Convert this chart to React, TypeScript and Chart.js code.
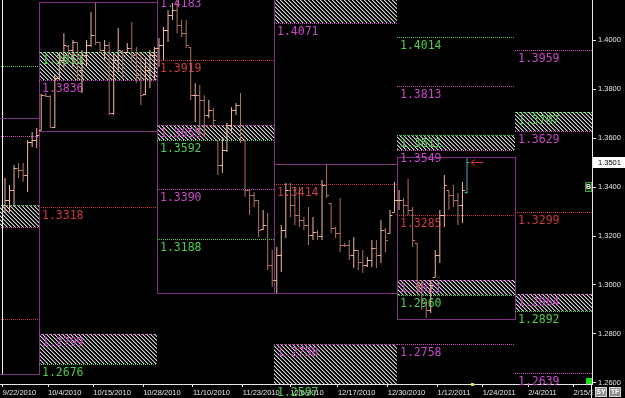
import { useEffect, useRef } from 'react';
import { Chart, registerables } from 'chart.js';

Chart.register(...registerables);

// ---------- data ----------
const opens = [
  1.3327, 1.3347, 1.3388, 1.3478, 1.3469, 1.3449, 1.3584, 1.3592,
  1.3633, 1.3775, 1.3771, 1.3645, 1.3845, 1.3918, 1.3975, 1.3959, 1.3992, 1.3878, 1.3939, 1.3980, 1.4020, 1.3990, 1.3959, 1.3980, 1.3702, 1.3918, 1.3955, 1.3950, 1.3967, 1.3939, 1.3857, 1.3780, 1.3878, 1.3939,
  1.3967, 1.3980, 1.4041, 1.4102, 1.4122, 1.4060, 1.4028, 1.3971, 1.3775, 1.3775, 1.3755, 1.3694, 1.3714, 1.3590, 1.3490, 1.3551, 1.3653, 1.3714, 1.3735, 1.3592, 1.3388, 1.3367, 1.3347, 1.3230, 1.3245, 1.3082, 1.3020,
  1.3122, 1.3225, 1.3388, 1.3327, 1.3286, 1.3265, 1.3245, 1.3204, 1.3216, 1.3200, 1.3408, 1.3335, 1.3233, 1.3212, 1.3165, 1.3163, 1.3122, 1.3143, 1.3094, 1.3082, 1.3102, 1.3151, 1.3122, 1.3225, 1.3212,
  1.3298, 1.3347, 1.3347, 1.3327, 1.3306, 1.3171, 1.3000, 1.2931, 1.2898, 1.3033, 1.3122, 1.3286, 1.3388, 1.3367, 1.3347, 1.3327, 1.3380,
];
const highs = [
  1.3437, 1.3408, 1.3490, 1.3498, 1.3498, 1.3592, 1.3625, 1.3641,
  1.3780, 1.3784, 1.3775, 1.3857, 1.3947, 1.4028, 1.3980, 1.4000, 1.3992, 1.3959, 1.4000, 1.4114, 1.4151, 1.3992, 1.4000, 1.3992, 1.3947, 1.4049, 1.3959, 1.3988, 1.4073, 1.3971, 1.3947, 1.3926, 1.3959, 1.3971,
  1.4008, 1.4053, 1.4122, 1.4151, 1.4282, 1.4082, 1.4082, 1.3971, 1.3824, 1.3816, 1.3775, 1.3755, 1.3722, 1.3592, 1.3604, 1.3661, 1.3726, 1.3743, 1.3784, 1.3592, 1.3388, 1.3380, 1.3347, 1.3306, 1.3294, 1.3143, 1.3155,
  1.3245, 1.3416, 1.3416, 1.3400, 1.3400, 1.3278, 1.3318, 1.3278, 1.3225, 1.3429, 1.3490, 1.3335, 1.3237, 1.3355, 1.3171, 1.3184, 1.3196, 1.3143, 1.3143, 1.3114, 1.3184, 1.3184, 1.3265, 1.3233, 1.3306,
  1.3420, 1.3388, 1.3355, 1.3433, 1.3318, 1.3171, 1.3020, 1.2931, 1.3020, 1.3143, 1.3306, 1.3449, 1.3388, 1.3408, 1.3376, 1.3420, 1.3518,
];
const lows = [
  1.3294, 1.3298, 1.3318, 1.3437, 1.3421, 1.3380, 1.3563, 1.3559,
  1.3633, 1.3767, 1.3641, 1.3641, 1.3837, 1.3890, 1.3930, 1.3890, 1.3837, 1.3784, 1.3890, 1.3971, 1.3980, 1.3947, 1.3918, 1.3694, 1.3694, 1.3869, 1.3849, 1.3947, 1.3910, 1.3824, 1.3735, 1.3775, 1.3804, 1.3837,
  1.3890, 1.3918, 1.3992, 1.4082, 1.4028, 1.4012, 1.3967, 1.3755, 1.3665, 1.3620, 1.3604, 1.3682, 1.3645, 1.3449, 1.3457, 1.3543, 1.3620, 1.3694, 1.3580, 1.3359, 1.3286, 1.3318, 1.3196, 1.3225, 1.3061, 1.2992, 1.2967,
  1.3053, 1.3192, 1.3278, 1.3245, 1.3237, 1.3225, 1.3163, 1.3184, 1.3184, 1.3184, 1.3355, 1.3212, 1.3192, 1.3135, 1.3155, 1.3102, 1.3069, 1.3061, 1.3049, 1.3073, 1.3073, 1.3069, 1.3090, 1.3135, 1.3212,
  1.3298, 1.3306, 1.3278, 1.3286, 1.3155, 1.2967, 1.2898, 1.2865, 1.2886, 1.3033, 1.3090, 1.3237, 1.3306, 1.3318, 1.3245, 1.3253, 1.3371,
];
const closes = [
  1.3347, 1.3388, 1.3478, 1.3469, 1.3449, 1.3584, 1.3592, 1.3612,
  1.3775, 1.3771, 1.3645, 1.3845, 1.3918, 1.3980, 1.3959, 1.3992, 1.3878, 1.3939, 1.3980, 1.4020, 1.3992, 1.3959, 1.3980, 1.3702, 1.3918, 1.3959, 1.3939, 1.3967, 1.3939, 1.3857, 1.3775, 1.3878, 1.3939, 1.3967,
  1.3980, 1.4041, 1.4102, 1.4122, 1.4061, 1.4028, 1.3980, 1.3775, 1.3775, 1.3755, 1.3694, 1.3714, 1.3674, 1.3490, 1.3551, 1.3653, 1.3714, 1.3735, 1.3592, 1.3388, 1.3367, 1.3347, 1.3225, 1.3245, 1.3082, 1.3020, 1.3122,
  1.3225, 1.3388, 1.3327, 1.3286, 1.3265, 1.3245, 1.3204, 1.3216, 1.3200, 1.3408, 1.3367, 1.3233, 1.3212, 1.3163, 1.3163, 1.3122, 1.3143, 1.3094, 1.3082, 1.3102, 1.3151, 1.3122, 1.3225, 1.3184, 1.3286,
  1.3347, 1.3347, 1.3327, 1.3306, 1.3184, 1.3000, 1.2939, 1.2898, 1.3000, 1.3122, 1.3286, 1.3408, 1.3367, 1.3347, 1.3327, 1.3388, 1.3501,
];

const xTickPos = [-0.5, 9.5, 19.5, 30.5, 41.5, 52.5, 63, 73.5, 84.5, 95.5, 105.5, 115.5, 125.5];
const xTickLabels = ['9/22/2010', '10/4/2010', '10/15/2010', '10/28/2010', '11/10/2010', '11/23/2010', '12/6/2010', '12/17/2010', '12/30/2010', '1/12/2011', '1/24/2011', '2/4/2011', '2/15/2011'];
const yTicks = [1.26, 1.28, 1.30, 1.32, 1.34, 1.36, 1.38, 1.40];

// monthly levels: Sep, Oct, Nov, Dec, Jan, Feb
const monthStart = [-16, 7.5, 33.5, 59.5, 86.5, 112.5];
const monthEnd = [7.5, 33.5, 59.5, 86.5, 112.5, 129.6];
const boxHigh = [1.3682, 1.4155, 1.4282, 1.3494, 1.3522, null];
const boxLow = [1.2637, 1.3629, 1.2967, 1.2967, 1.2861, null];
const pivot = [1.2861, 1.3318, 1.3919, 1.3414, 1.3285, 1.3299];
const upperZoneLow = [1.3237, 1.3836, 1.4183, 1.4071, 1.3549, 1.3629];
const upperZoneHigh = [1.3327, 1.3951, 1.4246, 1.4240, 1.3611, 1.3707];
const lowerZoneHigh = [null, 1.2799, 1.3655, 1.2758, 1.3021, 1.2964];
const lowerZoneLow = [null, 1.2676, 1.3592, 1.2597, 1.2960, 1.2892];
const upperPurple = [1.3608, null, null, null, 1.3813, 1.3959];
const upperGreen = [1.3894, null, null, null, 1.4014, 1.4214];
const lowerPurple = [null, null, 1.3390, null, 1.2758, 1.2639];
const lowerGreen = [null, null, 1.3188, null, null, null];

// ---------- styles ----------
const Y_MIN = 1.25959;
const Y_MAX = 1.41633;
const X_MIN = -1.1;
const X_MAX = 129.6;
const C = {
  green: '#4ccc4c',
  purple: '#c848c8',
  red: '#cc3c3c',
  box: '#803080',
  up: '#f0b8a0',
  down: '#b07460',
  live: '#4aa8a8',
  axis: '#e6e6e6',
};

let hatchPattern: CanvasPattern | null = null;
function getHatch(ctx: CanvasRenderingContext2D) {
  if (hatchPattern) return hatchPattern;
  const c = document.createElement('canvas');
  c.width = 4;
  c.height = 4;
  const g = c.getContext('2d')!;
  g.fillStyle = '#000';
  g.fillRect(0, 0, 4, 4);
  for (let i = 0; i < 4; i++) {
    g.fillStyle = '#d4d4d4';
    g.fillRect(i, i, 1, 1);
    g.fillStyle = '#5c5c5c';
    g.fillRect((i + 1) % 4, i, 1, 1);
  }
  hatchPattern = ctx.createPattern(c, 'repeat');
  return hatchPattern;
}

const barColors = closes.map((c, i) => (i === closes.length - 1 ? C.live : c >= opens[i] ? C.up : C.down));

const levelsPlugin = {
  id: 'levels',
  beforeDatasetsDraw(chart: any) {
    const { ctx, chartArea: a, scales } = chart;
    const x = scales.x;
    const y = scales.y;
    const py = (v: number) => Math.round(y.getPixelForValue(v)) + 0.5;
    ctx.save();
    ctx.beginPath();
    ctx.rect(a.left, a.top, a.right - a.left, a.bottom - a.top);
    ctx.clip();
    const pat = getHatch(ctx);
    // zones
    for (let m = 0; m < monthStart.length; m++) {
      const x0 = Math.round(x.getPixelForValue(monthStart[m]));
      const x1 = Math.round(x.getPixelForValue(monthEnd[m]));
      const zones: [number | null, number | null][] = [
        [upperZoneHigh[m], upperZoneLow[m]],
        [lowerZoneHigh[m], lowerZoneLow[m]],
      ];
      for (const [hi, lo] of zones) {
        if (hi == null || lo == null) continue;
        const y0 = Math.round(y.getPixelForValue(hi));
        const y1 = Math.round(y.getPixelForValue(lo));
        ctx.fillStyle = pat;
        ctx.fillRect(x0, y0, x1 - x0, y1 - y0);
      }
    }
    // left marker line
    ctx.strokeStyle = '#f0f0f0';
    ctx.lineWidth = 1;
    ctx.setLineDash([]);
    ctx.beginPath();
    const lx = Math.round(x.getPixelForValue(-0.66)) + 0.5;
    ctx.moveTo(lx, a.top);
    ctx.lineTo(lx, py(boxLow[0] as number));
    ctx.stroke();
    // boxes
    ctx.strokeStyle = C.box;
    for (let m = 0; m < monthStart.length; m++) {
      const hi = boxHigh[m];
      const lo = boxLow[m];
      if (hi == null || lo == null) continue;
      const x0 = Math.round(x.getPixelForValue(monthStart[m])) + 0.5;
      const x1 = Math.round(x.getPixelForValue(monthEnd[m])) + 0.5;
      ctx.strokeRect(x0, py(hi), x1 - x0, py(lo) - py(hi));
    }
    // dotted level lines
    ctx.setLineDash([1, 1]);
    const levelSets: [(number | null)[], string][] = [
      [upperGreen, C.green], [upperPurple, C.purple], [upperZoneHigh, C.green], [upperZoneLow, C.purple],
      [pivot, C.red], [lowerZoneHigh, C.purple], [lowerZoneLow, C.green], [lowerPurple, C.purple], [lowerGreen, C.green],
    ];
    for (let m = 0; m < monthStart.length; m++) {
      const x0 = Math.round(x.getPixelForValue(monthStart[m]));
      const x1 = Math.round(x.getPixelForValue(monthEnd[m]));
      for (const [arr, col] of levelSets) {
        const v = arr[m];
        if (v == null) continue;
        ctx.strokeStyle = col;
        ctx.beginPath();
        ctx.moveTo(x0, py(v));
        ctx.lineTo(x1, py(v));
        ctx.stroke();
      }
    }
    ctx.restore();
    // labels
    ctx.save();
    ctx.beginPath();
    ctx.rect(a.left, 0, a.right - a.left, chart.height);
    ctx.clip();
    ctx.font = '11.5px "DejaVu Sans Mono", monospace';
    ctx.textAlign = 'left';
    ctx.textBaseline = 'alphabetic';
    for (let m = 0; m < monthStart.length; m++) {
      const x0 = x.getPixelForValue(monthStart[m]);
      for (const [arr, col] of levelSets) {
        const v = arr[m];
        if (v == null) continue;
        ctx.fillStyle = col;
        ctx.fillText(v.toFixed(4), Math.round(x0) + 3, py(v) + 11.5);
      }
    }
    ctx.restore();
  },
};

const ohlcPlugin = {
  id: 'ohlcTicks',
  afterDatasetsDraw(chart: any) {
    const { ctx, scales } = chart;
    const x = scales.x;
    const y = scales.y;
    ctx.save();
    ctx.lineWidth = 1;
    for (let i = 0; i < closes.length; i++) {
      const px = x.getPixelForValue(i);
      const yo = Math.round(y.getPixelForValue(opens[i])) + 0.5;
      const yc = Math.round(y.getPixelForValue(closes[i])) + 0.5;
      ctx.strokeStyle = barColors[i];
      ctx.beginPath();
      ctx.moveTo(px - 2.5, yo);
      ctx.lineTo(px, yo);
      ctx.moveTo(px, yc);
      ctx.lineTo(px + 2.5, yc);
      ctx.stroke();
    }
    // arrow at last close
    const last = closes.length - 1;
    const ax = x.getPixelForValue(last) + 4;
    const ay = Math.round(y.getPixelForValue(closes[last])) + 0.5;
    ctx.strokeStyle = '#e03030';
    ctx.beginPath();
    ctx.moveTo(ax, ay);
    ctx.lineTo(ax + 12, ay);
    ctx.moveTo(ax, ay);
    ctx.lineTo(ax + 4, ay - 3);
    ctx.moveTo(ax, ay);
    ctx.lineTo(ax + 4, ay + 3);
    ctx.stroke();
    ctx.restore();
  },
};

const overlayPlugin = {
  id: 'overlay',
  beforeDraw(chart: any) {
    const { ctx } = chart;
    ctx.save();
    ctx.fillStyle = '#000';
    ctx.fillRect(0, 0, chart.width, chart.height);
    ctx.restore();
  },
  afterDraw(chart: any) {
    const { ctx, chartArea: a, scales } = chart;
    const x = scales.x;
    const y = scales.y;
    ctx.save();
    // cover overflow of last date label
    ctx.fillStyle = '#000';
    ctx.fillRect(a.right + 1, a.bottom + 4, chart.width - a.right, chart.height - a.bottom);
    ctx.strokeStyle = '#f0f0f0';
    ctx.beginPath();
    ctx.moveTo(Math.round(a.right) - 0.5, a.bottom);
    ctx.lineTo(Math.round(a.right) - 0.5, chart.height);
    ctx.stroke();
    // SY / TF buttons
    const btn = (bx: number, t: string) => {
      ctx.fillStyle = '#8e8e8e';
      ctx.fillRect(bx, 387, 12, 10);
      ctx.strokeStyle = '#d8d8d8';
      ctx.strokeRect(bx + 0.5, 387.5, 11, 9);
      ctx.fillStyle = '#fff';
      ctx.font = 'bold 7px "Liberation Sans", Arial, sans-serif';
      ctx.textAlign = 'center';
      ctx.textBaseline = 'middle';
      ctx.fillText(t, bx + 6, 392.5);
    };
    btn(a.right + 3, 'SY');
    btn(a.right + 17, 'TF');
    // current price box
    const last = closes.length - 1;
    const cy = Math.round(y.getPixelForValue(closes[last]));
    ctx.fillStyle = '#fff';
    ctx.fillRect(a.right + 1, cy - 5, chart.width - a.right - 1, 11);
    ctx.fillStyle = '#000';
    ctx.font = '7.5px "Liberation Sans", Arial, sans-serif';
    ctx.textAlign = 'left';
    ctx.textBaseline = 'middle';
    ctx.fillText(closes[last].toFixed(4), a.right + 6, cy + 0.5);
    // B marker
    ctx.fillStyle = '#0e2a0e';
    ctx.fillRect(a.right - 7, 182, 7, 10);
    ctx.strokeStyle = '#4a9a4a';
    ctx.strokeRect(a.right - 6.5, 182.5, 6, 9);
    ctx.fillStyle = '#e8e8e8';
    ctx.font = 'bold 7px "Liberation Sans", Arial, sans-serif';
    ctx.textAlign = 'center';
    ctx.fillText('B', a.right - 3.5, 187.5);
    // green square
    ctx.fillStyle = '#22dd22';
    ctx.fillRect(a.right - 6, a.bottom - 6, 6, 6);
    // yellow marker
    ctx.fillStyle = '#e8e040';
    ctx.fillRect(Math.round(x.getPixelForValue(closes.length)) - 1, a.bottom - 1, 3, 3);
    ctx.restore();
  },
};

export default function App() {
  const ref = useRef<HTMLCanvasElement | null>(null);
  useEffect(() => {
    document.body.style.margin = '0';
    document.body.style.background = '#000';
    const canvas = ref.current;
    if (!canvas) return;
    const chart = new Chart(canvas, {
      type: 'bar',
      data: {
        datasets: [
          {
            data: highs.map((h, i) => ({ x: i, y: [lows[i], h] })) as any,
            backgroundColor: barColors,
            borderWidth: 0,
            barThickness: 1,
            inflateAmount: 0,
            grouped: false,
          } as any,
        ],
      },
      options: {
        animation: false,
        responsive: false,
        maintainAspectRatio: false,
        layout: { padding: 0 },
        plugins: { legend: { display: false }, tooltip: { enabled: false } },
        scales: {
          x: {
            type: 'linear',
            min: X_MIN,
            max: X_MAX,
            offset: false,
            grid: { display: true, drawOnChartArea: false, drawTicks: true, tickLength: 3, color: C.axis, offset: false },
            border: { display: true, color: C.axis },
            ticks: {
              align: 'start',
              color: C.axis,
              font: { size: 7.5, family: '"Liberation Sans", Arial, sans-serif' },
              padding: 1,
              maxRotation: 0,
              minRotation: 0,
              autoSkip: false,
              callback: (_v: any, i: number) => xTickLabels[i],
            },
            afterBuildTicks: (s: any) => {
              s.ticks = xTickPos.map((v) => ({ value: v }));
            },
            afterFit: (s: any) => {
              s.height = 14;
              s.paddingLeft = 0;
              s.paddingRight = 0;
            },
          } as any,
          y: {
            type: 'linear',
            position: 'right',
            min: Y_MIN,
            max: Y_MAX,
            grid: { display: true, drawOnChartArea: false, drawTicks: true, tickLength: 4, color: C.axis },
            border: { display: true, color: C.axis },
            ticks: {
              color: C.axis,
              font: { size: 7.5, family: '"Liberation Sans", Arial, sans-serif' },
              padding: 2,
              callback: (v: any) => Number(v).toFixed(4),
            },
            afterBuildTicks: (s: any) => {
              s.ticks = yTicks.map((v) => ({ value: v }));
            },
            afterFit: (s: any) => {
              s.width = 33;
              s.paddingTop = 0;
              s.paddingBottom = 0;
            },
          } as any,
        },
      },
      plugins: [overlayPlugin, levelsPlugin, ohlcPlugin],
    });
    return () => chart.destroy();
  }, []);
  return <canvas ref={ref} width={625} height={398} style={{ display: 'block', width: 625, height: 398 }} />;
}
